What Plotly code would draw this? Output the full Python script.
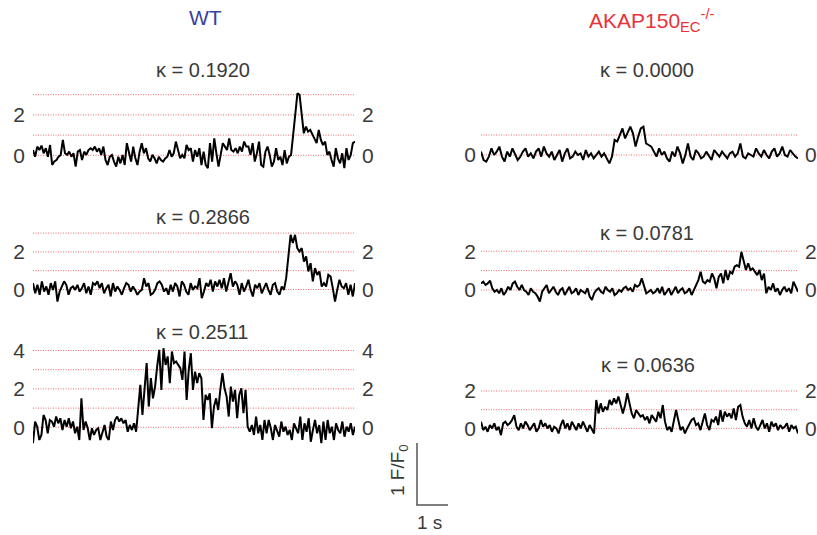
import plotly.graph_objects as go

W, H = 817, 535
DURATION = 10.4  # seconds spanned by each trace (1 s scale bar ~ 31 px)

# ---- data (F/F0 in quantal units) ----
wt_1 = [0.26,-0.07,0.43,0.26,0.48,0.10,0.35,-0.07,0.51,-0.48,-0.31,-0.23,-0.07,0.02,0.76,0.10,0.02,0.18,-0.07,0.10,
        -0.56,0.18,0.26,-0.23,0.18,0.02,0.26,0.35,0.26,0.43,0.18,0.35,0.02,0.43,-0.23,-0.48,-0.07,0.02,-0.31,-0.56,
        -0.07,-0.40,0.02,-0.48,0.60,0.18,-0.31,0.43,-0.15,-0.48,0.18,0.60,0.10,0.35,-0.15,-0.31,0.02,-0.15,-0.40,-0.07,
        -0.23,-0.31,-0.15,-0.07,0.26,-0.07,0.10,0.68,0.18,-0.15,0.02,-0.15,0.51,0.26,0.35,-0.31,0.26,-0.07,0.35,-0.48,
        0.18,-0.48,-0.64,0.60,-0.31,0.84,0.10,-0.56,0.02,0.60,0.43,0.26,0.84,0.26,0.18,0.35,0.10,0.43,0.18,0.68,
        0.43,0.43,0.02,0.60,-0.31,0.10,0.68,-0.48,-0.56,0.18,0.43,0.02,-0.56,-0.31,0.35,-0.23,-0.07,-0.48,0.26,-0.40,
        -0.07,0.02,1.01,2.00,3.07,2.99,2.00,1.09,1.42,1.17,1.26,1.01,0.76,0.60,1.26,0.76,0.51,0.68,0.02,0.18,
        -0.23,-0.56,0.35,-0.15,-0.40,0.10,-0.64,0.35,-0.23,0.02,0.60,0.68]

wt_2 = [0.34,-0.20,0.25,-0.28,0.43,-0.11,0.16,-0.28,0.34,-0.02,0.43,-0.64,-0.11,0.16,0.43,0.25,-0.28,0.07,0.16,-0.02,
        0.25,-0.11,0.07,0.34,-0.20,0.16,-0.28,0.34,0.25,0.43,0.07,0.34,-0.20,0.07,0.25,-0.37,0.34,-0.11,0.16,-0.02,
        -0.28,0.07,0.34,0.25,-0.11,0.16,-0.02,-0.28,-0.11,-0.02,0.60,0.16,0.34,-0.28,-0.20,-0.02,0.34,0.43,0.25,-0.11,
        0.07,-0.28,0.25,-0.11,0.34,0.16,-0.37,0.43,0.25,-0.11,-0.28,0.34,-0.02,0.16,0.07,0.60,-0.46,-0.11,0.34,0.16,
        0.52,-0.11,0.43,0.16,0.52,0.07,0.60,-0.11,0.34,0.87,0.16,0.43,0.25,-0.28,0.34,-0.11,0.16,0.52,-0.02,-0.37,
        0.25,0.07,0.34,-0.20,0.07,0.34,-0.02,-0.28,0.25,0.34,-0.11,-0.28,0.16,-0.02,0.60,1.85,2.91,2.47,2.91,2.20,
        2.02,2.20,1.49,1.76,0.96,1.40,0.43,1.14,0.78,0.96,0.16,0.34,0.16,0.78,0.69,0.07,-0.64,-0.02,0.52,0.16,
        0.07,0.34,-0.28,0.25,-0.37,0.34]

wt_3 = [-0.83,0.30,0.03,-0.66,-0.40,0.64,0.38,-0.31,0.38,0.30,0.03,0.56,0.21,0.47,-0.14,0.38,0.03,0.47,-0.05,0.30,
        -0.31,0.03,-0.66,1.51,-0.14,0.30,-0.05,-0.66,-0.05,-0.40,-0.14,-0.05,-0.66,-0.31,0.12,-0.49,-0.66,0.30,-0.14,0.38,
        0.56,0.30,0.47,0.21,0.38,-0.23,0.12,-0.14,0.21,-0.23,1.08,2.21,0.64,2.21,3.34,1.08,2.56,1.51,2.12,3.17,
        4.03,1.95,4.12,3.25,3.69,2.30,3.95,3.34,3.43,3.25,3.08,2.47,3.95,1.43,2.99,3.86,1.95,2.90,2.30,2.82,
        2.56,0.38,1.69,1.43,1.77,-0.05,1.08,1.51,0.90,1.95,2.82,2.03,1.60,0.56,2.12,1.34,1.95,0.47,1.69,2.03,
        0.73,1.95,0.03,-0.23,0.12,-0.40,0.56,-0.31,0.12,-0.66,0.38,-0.31,0.38,-0.05,-0.66,0.12,-0.14,-0.49,0.30,-0.23,
        0.03,-0.40,-0.14,-0.66,0.21,-0.05,-0.31,0.56,-0.66,0.21,-0.23,0.47,-0.75,-0.14,0.38,-0.31,0.12,-0.83,0.30,-0.66,
        0.38,-0.31,0.03,-0.66,0.21,-0.14,-0.31,0.30,-0.49,0.03,-0.23,0.21,-0.40,0.03]

ko_1 = [0.17,-0.25,-0.33,-0.08,0.33,0.00,0.17,0.42,-0.08,-0.33,0.17,-0.08,0.33,0.08,-0.25,-0.08,0.17,0.33,-0.08,0.08,
        -0.17,0.17,0.33,-0.08,0.42,0.08,-0.08,0.17,-0.25,0.00,0.25,-0.33,0.08,0.33,-0.17,-0.08,0.17,0.00,0.08,-0.25,
        0.25,-0.08,0.08,-0.17,0.00,0.17,-0.08,0.08,-0.17,-0.42,-0.08,0.75,0.67,1.00,1.33,0.83,1.17,1.42,1.08,0.42,
        0.92,1.33,1.42,0.58,0.50,0.42,0.17,-0.08,0.33,0.00,0.17,-0.17,-0.33,0.17,-0.08,0.42,0.08,-0.42,0.00,0.58,
        -0.08,-0.25,0.25,0.08,-0.17,-0.08,0.17,-0.08,-0.25,0.25,0.08,-0.08,0.17,0.00,-0.17,0.08,0.17,-0.08,0.08,0.58,
        -0.08,-0.17,0.08,0.00,-0.08,0.33,0.08,-0.08,0.25,0.00,-0.17,0.17,0.33,-0.08,0.08,0.42,0.00,-0.08,0.25,0.08,
        -0.08,-0.17]

ko_2 = [0.34,0.43,0.26,0.34,0.48,0.09,-0.09,0.00,-0.17,0.09,-0.26,-0.09,0.17,0.00,0.34,0.43,0.17,0.00,0.26,0.00,
        -0.09,-0.26,0.09,-0.09,-0.17,-0.34,-0.60,-0.09,0.09,0.26,-0.17,0.00,0.17,-0.09,-0.26,0.00,0.09,-0.26,0.00,0.17,
        -0.17,-0.09,0.09,-0.26,0.00,-0.09,-0.17,0.09,-0.34,-0.51,-0.17,0.00,0.09,-0.09,-0.17,0.17,0.00,-0.09,0.09,-0.26,
        -0.17,0.00,-0.09,0.09,0.17,0.00,0.09,-0.09,0.26,0.17,0.26,0.60,0.17,-0.17,-0.09,0.00,-0.17,-0.09,0.09,-0.17,
        0.17,-0.26,-0.09,0.09,-0.26,0.00,0.17,-0.17,0.00,0.09,-0.17,-0.09,0.09,-0.26,0.00,0.17,0.51,0.94,0.43,0.34,
        0.51,0.43,0.85,0.60,0.09,0.68,0.85,0.34,1.03,0.51,0.94,0.85,1.20,1.28,1.20,1.97,1.54,1.03,1.37,1.03,
        1.11,0.94,0.77,1.03,0.51,0.85,-0.17,0.17,0.00,0.34,-0.09,0.09,-0.26,0.00,0.17,-0.09,0.09,-0.17,0.43,0.17,
        -0.09]

ko_3 = [0.36,-0.09,0.09,-0.18,0.18,0.00,0.27,-0.09,0.09,-0.36,0.27,0.36,0.18,0.27,0.45,0.71,0.09,-0.09,0.27,0.00,
        0.36,0.18,-0.09,0.09,0.27,-0.18,0.00,0.45,0.09,0.27,0.00,0.18,-0.18,0.09,0.00,-0.27,0.18,0.45,0.00,0.27,
        -0.09,0.36,0.09,-0.09,0.27,0.00,0.36,0.09,-0.18,0.18,-0.09,-0.27,1.52,0.80,1.34,0.89,1.16,0.98,1.52,1.25,
        1.61,1.34,1.70,1.16,0.80,1.25,1.88,1.34,0.80,0.54,0.98,0.80,0.63,0.71,0.45,0.63,0.27,0.71,0.54,0.36,
        0.89,0.54,1.25,0.36,-0.09,0.09,-0.18,0.36,0.98,0.45,-0.09,0.09,-0.27,0.00,0.27,0.45,0.54,0.18,0.27,-0.09,
        0.36,0.80,0.18,-0.09,0.45,0.36,0.63,0.18,0.98,0.36,0.89,0.63,0.80,0.54,1.07,0.45,1.16,1.25,0.63,0.27,
        0.09,0.45,0.00,0.54,0.09,-0.09,0.18,0.45,0.00,0.27,-0.18,0.36,0.09,0.27,-0.09,0.18,0.00,0.09,0.27,-0.18,
        0.18,0.00,0.09,-0.27]

kappa_labels = ["κ = 0.1920", "κ = 0.2866", "κ = 0.2511", "κ = 0.0000", "κ = 0.0781", "κ = 0.0636"]
quantal_levels = [[0, 1, 2, 3], [0, 1, 2, 3], [0, 1, 2, 3, 4], [0, 1], [0, 1, 2], [0, 1, 2]]
tick_values = [[0, 2], [0, 2], [0, 2, 4], [0], [0, 2], [0, 2]]
group_titles = ["WT", "AKAP150<sub>EC</sub><sup>-/-</sup>"]

series = [wt_1, wt_2, wt_3, ko_1, ko_2, ko_3]

# ---- layout geometry (pixels) ----
FONT = "Arial, 'Liberation Sans', sans-serif"
TXT = "#3a3a3a"
ANN_DY = 0
col_x = [(33, 355), (481, 798)]
left_standoff = [7, 4]
right_standoff = [6, 6]
# per panel: column, zero-level pixel, px per unit, domain top px, domain bottom px, title centre (x,y)
geom = [
    (0, 155.3, 20.2, 84, 175, 203, 70),
    (0, 289.5, 18.8, 228, 306, 203, 217),
    (0, 427.3, 19.2, 345, 447, 202, 332),
    (1, 155.0, 20.0, 120, 172, 647, 70),
    (1, 290.0, 19.4, 245, 306, 647, 233),
    (1, 428.4, 18.7, 385, 447, 648, 365),
]


def py(px):
    return 1 - (px + ANN_DY) / H


fig = go.Figure()
layout = dict(template="none", width=W, height=H, margin=dict(l=0, r=0, t=0, b=0, pad=0),
              paper_bgcolor="white", plot_bgcolor="white", showlegend=False,
              font=dict(family=FONT, color=TXT))
annotations = []

for i, (vals, levels, tv, g) in enumerate(zip(series, quantal_levels, tick_values, geom)):
    col, zero, unit, top, bot, tx, ty = g
    k = i + 1
    xa = "x" if k == 1 else f"x{k}"
    ya = "y" if k == 1 else f"y{k}"
    ya_r = f"y{k + 6}"
    n = len(vals)
    t = [DURATION * j / (n - 1) for j in range(n)]
    # quantal level lines on the base axis, trace on the overlay (right-hand) axis so it sits on top
    for lv in levels:
        fig.add_trace(go.Scatter(x=[0, DURATION], y=[lv, lv], mode="lines", xaxis=xa, yaxis=ya,
                                 line=dict(color="rgba(238,70,70,0.8)", width=1, dash="1px,1.5px"),
                                 hoverinfo="skip"))
    fig.add_trace(go.Scatter(x=t, y=vals, mode="lines", xaxis=xa, yaxis=ya_r,
                             line=dict(color="black", width=2)))
    yr = [-(bot - zero) / unit, (zero - top) / unit]
    dom_y = [1 - bot / H, 1 - top / H]
    x0, x1 = col_x[col]
    layout["xaxis" if k == 1 else f"xaxis{k}"] = dict(
        domain=[x0 / W, x1 / W], range=[0, DURATION], visible=False, anchor=ya, automargin=False)
    common = dict(range=yr, tickvals=tv, ticks="", showgrid=False, zeroline=False, showline=False,
                  automargin=False, tickfont=dict(size=21, color=TXT, family=FONT))
    layout["yaxis" if k == 1 else f"yaxis{k}"] = dict(domain=dom_y, anchor=xa, side="left",
                                                       ticklabelstandoff=left_standoff[col], **common)
    layout[f"yaxis{k + 6}"] = dict(overlaying=ya, anchor=xa, side="right",
                                   ticklabelstandoff=right_standoff[col], **common)
    annotations.append(dict(text=kappa_labels[i], x=tx / W, y=py(ty), xref="paper", yref="paper",
                            showarrow=False, font=dict(size=20, color=TXT, family=FONT),
                            xanchor="center", yanchor="middle"))

# group headers
annotations.append(dict(text=group_titles[0], x=205 / W, y=py(18), xref="paper", yref="paper",
                        showarrow=False, font=dict(size=21, color="#3b3f9c", family=FONT),
                        xanchor="center", yanchor="middle"))
annotations.append(dict(text=group_titles[1], x=651 / W, y=py(20), xref="paper", yref="paper",
                        showarrow=False, font=dict(size=21, color="#e8323c", family=FONT),
                        xanchor="center", yanchor="middle"))

# scale bar
bar_col = "#555555"
shapes = [
    dict(type="line", xref="paper", yref="paper", x0=417 / W, x1=417 / W, y0=1 - 443 / H, y1=1 - 505 / H,
         line=dict(color=bar_col, width=1.5)),
    dict(type="line", xref="paper", yref="paper", x0=416.3 / W, x1=448 / W, y0=1 - 505 / H, y1=1 - 505 / H,
         line=dict(color=bar_col, width=1.5)),
]
annotations.append(dict(text="1 F/F<sub>0</sub>", x=399 / W, y=1 - 470 / H, xref="paper", yref="paper",
                        showarrow=False, textangle=-90, font=dict(size=19, color=TXT, family=FONT),
                        xanchor="center", yanchor="middle"))
annotations.append(dict(text="1 s", x=429 / W, y=py(522), xref="paper", yref="paper",
                        showarrow=False, font=dict(size=19, color=TXT, family=FONT),
                        xanchor="center", yanchor="middle"))

layout["annotations"] = annotations
layout["shapes"] = shapes
fig.update_layout(**layout)
fig.write_html("out.html", config={"displayModeBar": False},
               post_script="document.body.style.margin='0';document.body.style.padding='0';")
